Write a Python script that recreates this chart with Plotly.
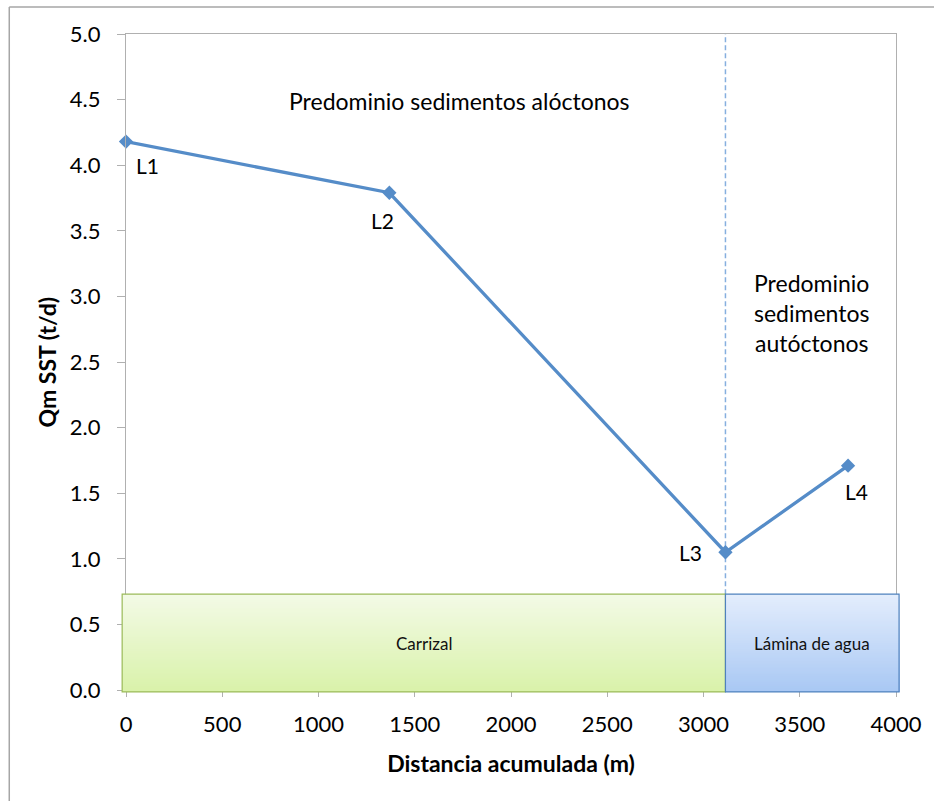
import plotly.graph_objects as go

# Sampling stations along the reach
stations = ["L1", "L2", "L3", "L4"]
distance_m = [0, 1368, 3114, 3751]
qm_sst = [4.18, 3.79, 1.05, 1.71]

# Land-cover zones shown as bands under the curve
zone_names = ["Carrizal", "Lámina de agua"]
zone_start = [-20, 3114]
zone_end = [3114, 4016]
zone_top = 0.73
zone_bottom = -0.015
zone_fill_top = ["#f3fae6", "#e3edfc"]
zone_fill_bottom = ["#d9f2aa", "#a9c8f4"]
zone_border = ["#9bbb59", "#4f81bd"]

boundary_x = 3114

x_range = [0, 4000]
y_range = [0, 5]

x_ticks = [0, 500, 1000, 1500, 2000, 2500, 3000, 3500, 4000]
y_ticks = [0.0, 0.5, 1.0, 1.5, 2.0, 2.5, 3.0, 3.5, 4.0, 4.5, 5.0]

FONT = "Lato"
LINE = "#558cc8"
AXIS = "#b0b0b0"


def px(v):
    return (v - x_range[0]) / (x_range[1] - x_range[0])


def py(v):
    return (v - y_range[0]) / (y_range[1] - y_range[0])


def mix(c1, c2, t):
    a = [int(c1[i:i + 2], 16) for i in (1, 3, 5)]
    b = [int(c2[i:i + 2], 16) for i in (1, 3, 5)]
    return "#" + "".join(f"{round(a[k] + (b[k] - a[k]) * t):02x}" for k in range(3))


shapes = []
annotations = []

# Gradient-filled zone bands: nested rectangles anchored at the bottom,
# each one shorter and darker than the previous
n_strips = 50
for i, name in enumerate(zone_names):
    x0, x1 = px(zone_start[i]), px(zone_end[i])
    y0, y1 = py(zone_bottom), py(zone_top)
    for s in range(n_strips):
        t = s / (n_strips - 1)
        ytop = y1 - (y1 - y0) * s / n_strips
        col = mix(zone_fill_top[i], zone_fill_bottom[i], t)
        shapes.append(dict(type="rect", xref="paper", yref="paper",
                           x0=x0, x1=x1, y0=y0, y1=ytop,
                           fillcolor=col, line=dict(width=0), layer="above"))
    shapes.append(dict(type="rect", xref="paper", yref="paper",
                       x0=x0, x1=x1, y0=y0, y1=y1,
                       fillcolor="rgba(0,0,0,0)",
                       line=dict(color=zone_border[i], width=1.2), layer="above"))
    annotations.append(dict(x=(x0 + x1) / 2, y=(y0 + y1) / 2, xref="paper", yref="paper",
                            xanchor="center", yanchor="middle",
                            text=name, showarrow=False,
                            font=dict(family=FONT, size=17, color="#111111")))

# Dashed boundary between sediment regimes
shapes.append(dict(type="line", xref="x", yref="y",
                   x0=boundary_x, x1=boundary_x, y0=zone_top, y1=y_range[1],
                   line=dict(color="#86afdf", width=1.5, dash="5px,3px"), layer="below"))

# Outer chart frame
shapes.append(dict(type="line", xref="paper", yref="paper",
                   x0=-0.1516, x1=1.1, y0=1.0412, y1=1.0412,
                   line=dict(color="#a6a6a6", width=1.5)))
shapes.append(dict(type="line", xref="paper", yref="paper",
                   x0=-0.1516, x1=-0.1516, y0=-0.2, y1=1.0412,
                   line=dict(color="#a6a6a6", width=1.5)))

# Station labels
label_shift = {"L1": (21, -24), "L2": (-7, -28), "L3": (-35, 0), "L4": (8, -26)}
for name, xv, yv in zip(stations, distance_m, qm_sst):
    dx, dy = label_shift[name]
    annotations.append(dict(x=xv, y=yv, xref="x", yref="y", text=name,
                            showarrow=False, xshift=dx, yshift=dy,
                            xanchor="center", yanchor="middle",
                            font=dict(family=FONT, size=21, color="#000000")))

# Region captions
annotations.append(dict(x=1730, y=4.49, xref="x", yref="y",
                        xanchor="center", yanchor="middle",
                        text="Predominio sedimentos alóctonos", showarrow=False,
                        font=dict(family=FONT, size=23, color="#000000")))
annotations.append(dict(x=3560, y=2.87, xref="x", yref="y",
                        xanchor="center", yanchor="middle",
                        text="Predominio<br>sedimentos<br>autóctonos", showarrow=False,
                        font=dict(family=FONT, size=23, color="#000000")))

# Y axis title
annotations.append(dict(x=-0.102, y=0.5, xref="paper", yref="paper",
                        xanchor="center", yanchor="middle",
                        text="<b>Qm SST (t/d)</b>", textangle=-90, showarrow=False,
                        font=dict(family=FONT, size=23, color="#000000")))

fig = go.Figure()
fig.add_trace(go.Scatter(
    x=distance_m, y=qm_sst, mode="lines+markers",
    line=dict(color=LINE, width=3.3),
    marker=dict(symbol="diamond", size=11, color=LINE),
    cliponaxis=False, showlegend=False, hoverinfo="x+y",
))

fig.update_layout(
    width=934, height=801,
    margin=dict(l=126, r=36, t=34, b=111),
    paper_bgcolor="white", plot_bgcolor="white",
    font=dict(family=FONT, size=22, color="#000000"),
    shapes=shapes, annotations=annotations,
    xaxis=dict(range=x_range, tickvals=x_ticks, ticktext=[str(v) for v in x_ticks],
               showgrid=False, zeroline=False, showline=True, linecolor=AXIS,
               linewidth=1.3, mirror=True, ticks="outside", ticklen=6,
               tickcolor=AXIS, tickfont=dict(family=FONT, size=22),
               ticklabelstandoff=8,
               title=dict(text="<b>Distancia acumulada (m)</b>", standoff=20,
                          font=dict(family=FONT, size=23))),
    yaxis=dict(range=y_range, tickvals=y_ticks, ticktext=[f"{v:.1f}" for v in y_ticks],
               showgrid=False, zeroline=False, showline=True, linecolor=AXIS,
               linewidth=1.3, mirror=True, ticks="outside", ticklen=8,
               tickcolor=AXIS, tickfont=dict(family=FONT, size=22),
               ticklabelstandoff=12),
)

fig.write_html("out.html")
